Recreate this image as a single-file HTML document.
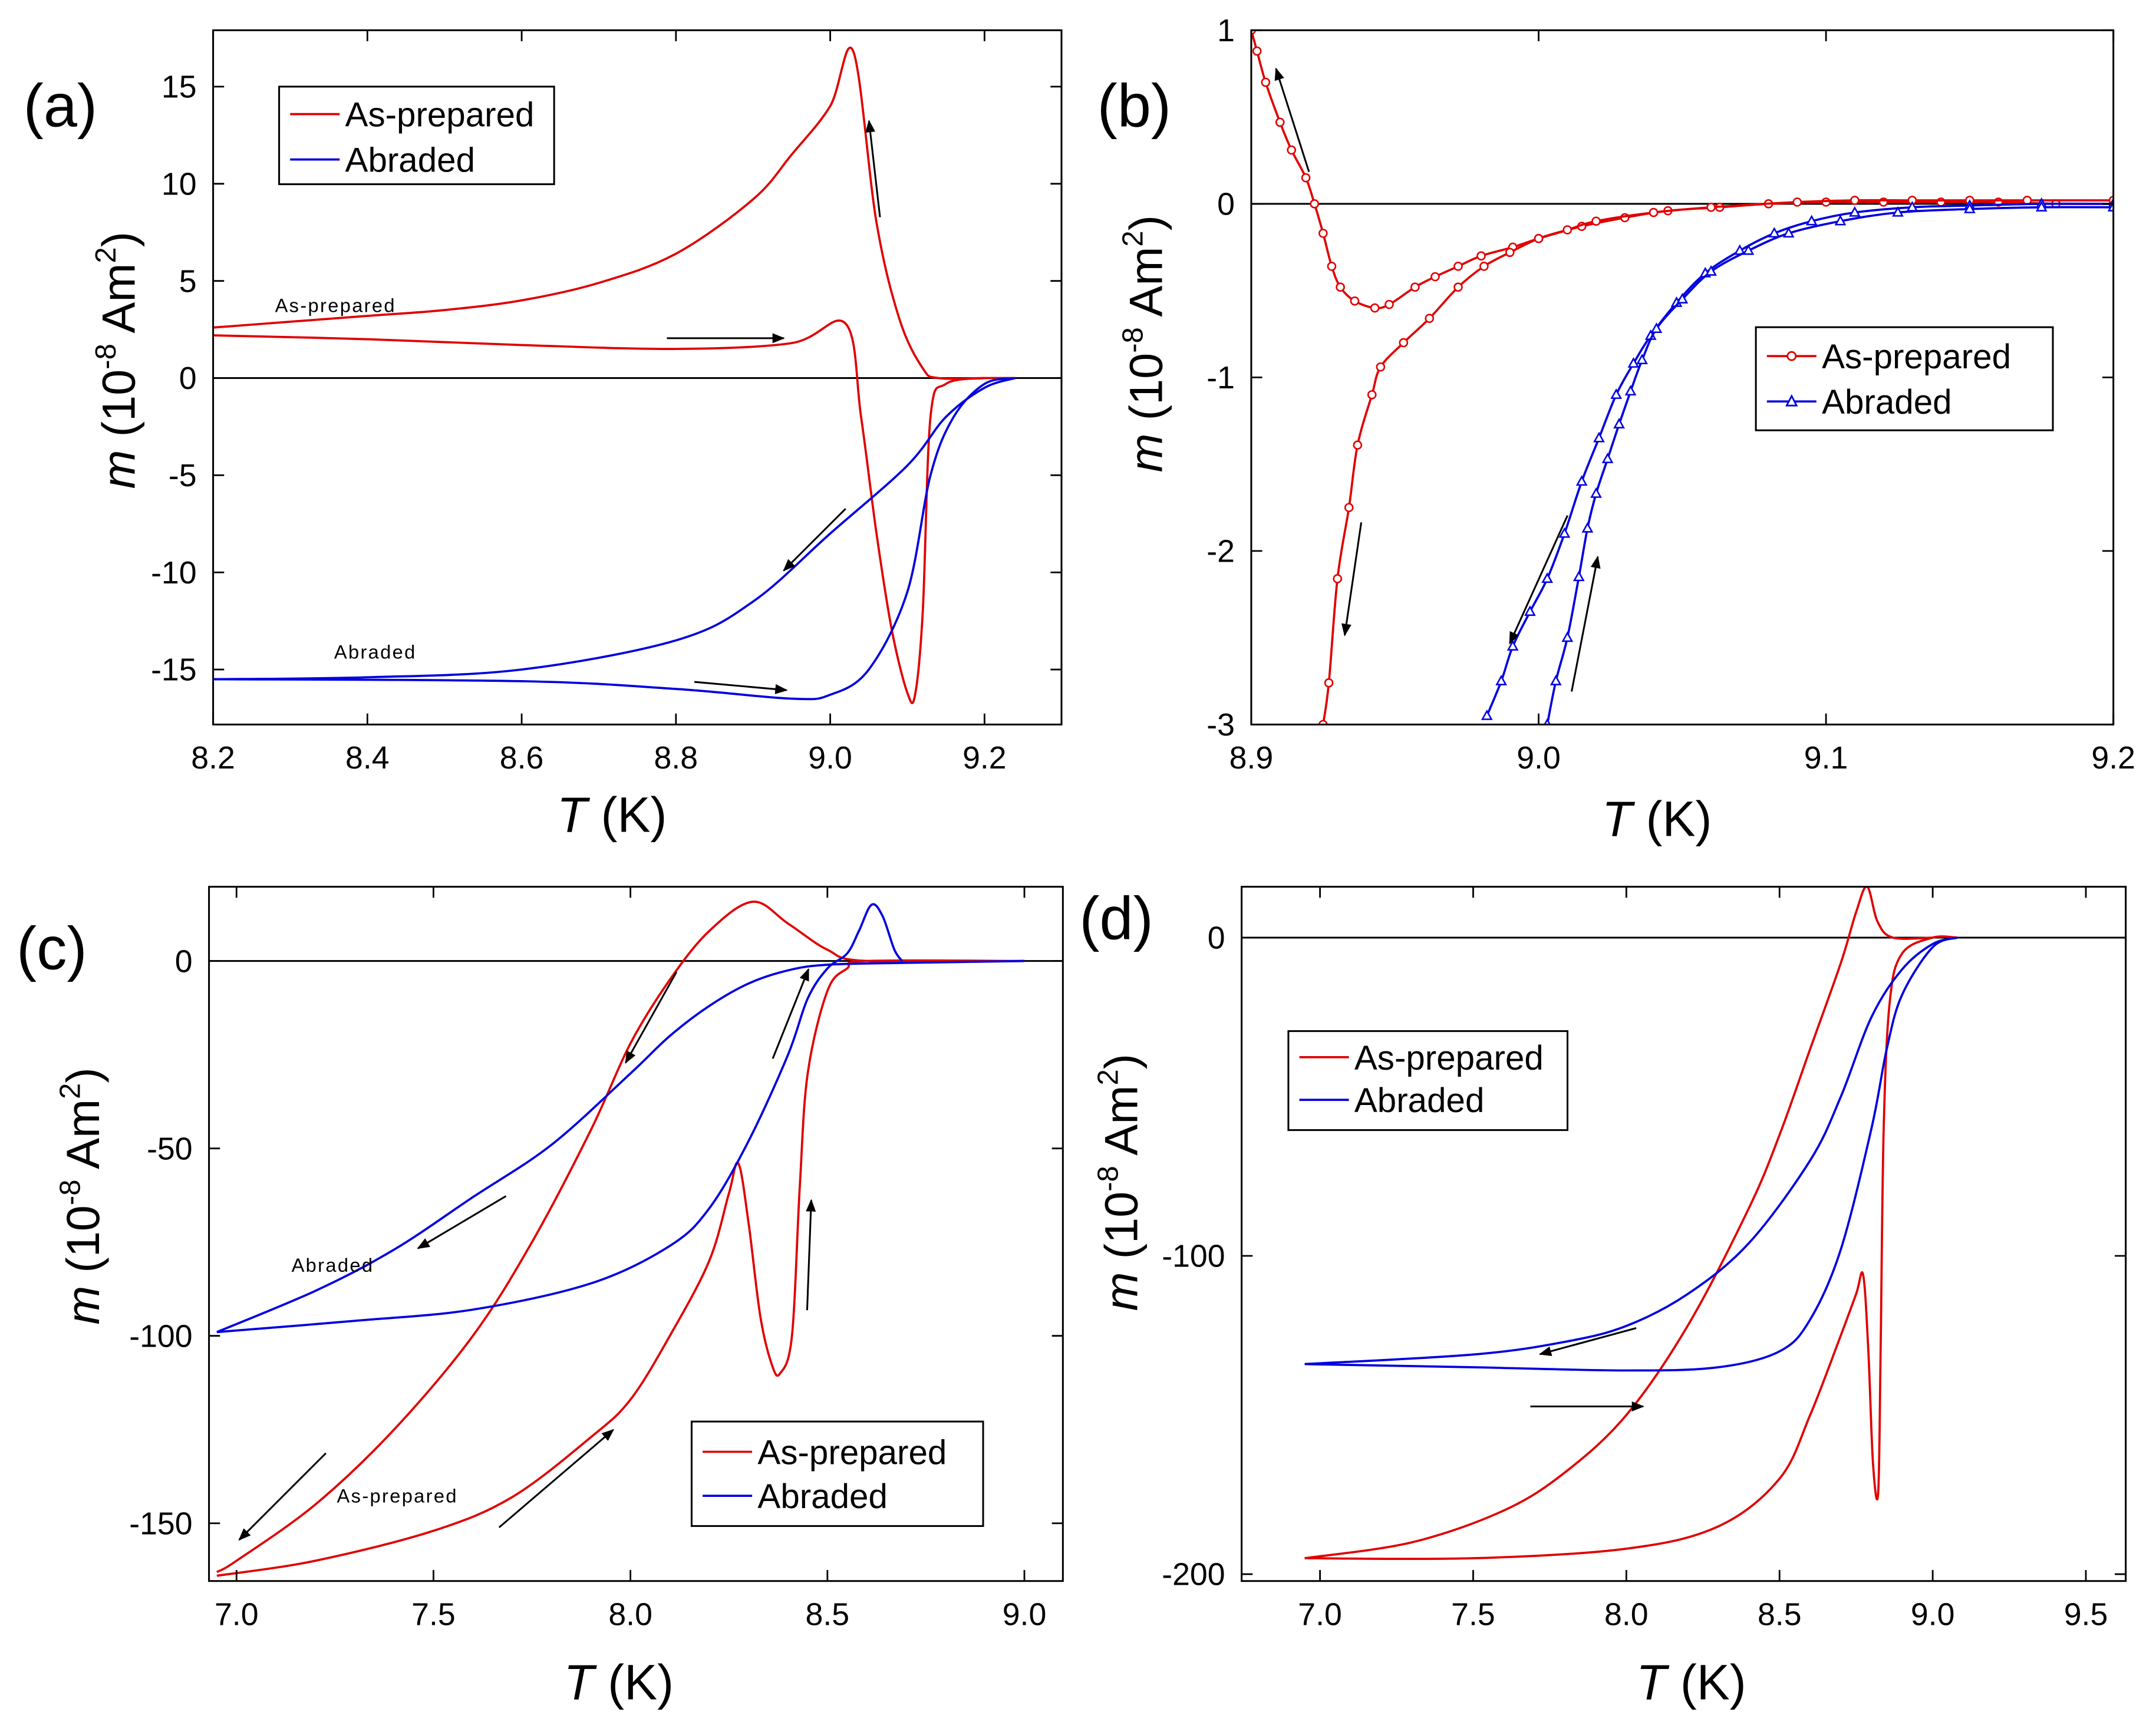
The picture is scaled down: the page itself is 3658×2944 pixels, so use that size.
<!DOCTYPE html>
<html><head><meta charset="utf-8">
<style>
html,body{margin:0;padding:0;background:#fff;}
svg{display:block;font-family:"Liberation Sans",sans-serif;}
</style></head>
<body>
<svg id="fig" width="3658" height="2944" viewBox="0 0 1568 1262" preserveAspectRatio="none" xmlns="http://www.w3.org/2000/svg"></svg>
<script>
// ---- Panel (a) data ----
const aXTicks=[8.2,8.4,8.6,8.8,9.0,9.2];
const aYTicks=[-15,-10,-5,0,5,10,15];
const aPrepCool=[[9.24,0],[9.2,0],[9.14,0],[9.12,0.5],[9.09,3],[9.06,8],[9.03,16.8],[9.0,14],[8.95,11.5],[8.9,9.2],[8.8,6.4],[8.7,4.9],[8.6,4],[8.5,3.5],[8.4,3.2],[8.3,2.9],[8.2,2.6]];
const aPrepWarm=[[8.2,2.2],[8.4,2.0],[8.6,1.7],[8.8,1.5],[8.95,1.8],[9.02,2.8],[9.04,-2],[9.06,-8],[9.08,-13],[9.1,-16.2],[9.11,-16.3],[9.12,-12],[9.13,-2],[9.15,-0.3],[9.2,0]];
const aAbrCool=[[8.2,-15.5],[8.4,-15.4],[8.6,-15],[8.8,-13.5],[8.9,-11.5],[9.0,-8],[9.1,-4.5],[9.15,-2],[9.2,-0.5],[9.24,0]];
const aAbrWarm=[[8.2,-15.5],[8.6,-15.6],[8.8,-16],[8.95,-16.5],[9.0,-16.3],[9.05,-15],[9.1,-11],[9.13,-5],[9.16,-2],[9.2,-0.3],[9.24,0]];
// ---- Panel (b) data ----
const bXTicks=[8.9,9.0,9.1,9.2];
const bYTicks=[-3,-2,-1,0,1];
const bPrepCool=[[8.9,1],[8.902,0.88],[8.905,0.7],[8.91,0.47],[8.914,0.31],[8.919,0.15],[8.922,0],[8.925,-0.17],[8.928,-0.36],[8.931,-0.48],[8.936,-0.56],[8.943,-0.6],[8.948,-0.58],[8.957,-0.48],[8.964,-0.42],[8.972,-0.36],[8.98,-0.3],[8.991,-0.25],[9.0,-0.2],[9.015,-0.13],[9.03,-0.08],[9.045,-0.04],[9.063,-0.02],[9.08,0],[9.1,0.01],[9.12,0.01],[9.14,0.01],[9.16,0.01],[9.18,0],[9.2,0]];
const bPrepWarm=[[8.925,-3],[8.927,-2.76],[8.930,-2.16],[8.934,-1.75],[8.937,-1.39],[8.942,-1.1],[8.945,-0.94],[8.953,-0.8],[8.962,-0.66],[8.972,-0.48],[8.981,-0.36],[8.99,-0.28],[9.0,-0.2],[9.01,-0.15],[9.02,-0.1],[9.04,-0.05],[9.06,-0.02],[9.09,0.01],[9.11,0.02],[9.13,0.02],[9.15,0.02],[9.17,0.02],[9.2,0.02]];
const bAbrCool=[[8.982,-2.95],[8.987,-2.75],[8.991,-2.55],[8.997,-2.35],[9.003,-2.16],[9.009,-1.9],[9.015,-1.6],[9.021,-1.35],[9.027,-1.1],[9.033,-0.92],[9.039,-0.76],[9.048,-0.57],[9.058,-0.4],[9.07,-0.27],[9.082,-0.17],[9.095,-0.1],[9.11,-0.05],[9.13,-0.02],[9.15,-0.01],[9.175,0],[9.2,0]];
const bAbrWarm=[[9.003,-3],[9.006,-2.75],[9.01,-2.5],[9.014,-2.15],[9.017,-1.87],[9.02,-1.67],[9.024,-1.47],[9.028,-1.27],[9.032,-1.08],[9.036,-0.9],[9.041,-0.72],[9.05,-0.55],[9.06,-0.39],[9.073,-0.27],[9.087,-0.17],[9.105,-0.1],[9.125,-0.05],[9.15,-0.03],[9.175,-0.02],[9.2,-0.02]];
// ---- Panel (c) data ----
const cXTicks=[7.0,7.5,8.0,8.5,9.0];
const cYTicks=[-150,-100,-50,0];
const cPrepCool=[[9.0,0],[8.6,0],[8.5,3],[8.4,10],[8.31,15.8],[8.2,8],[8.1,-5],[8.0,-22],[7.9,-45],[7.75,-75],[7.6,-100],[7.4,-125],[7.2,-145],[7.0,-160],[6.95,-163]];
const cPrepWarm=[[6.95,-164],[7.2,-160],[7.5,-152],[7.7,-143],[7.9,-127],[8.0,-117],[8.1,-100],[8.2,-80],[8.25,-62],[8.274,-54],[8.3,-70],[8.33,-95],[8.36,-108],[8.38,-110],[8.41,-100],[8.43,-60],[8.45,-30],[8.5,-8],[8.55,-2],[8.6,0],[9.0,0]];
const cAbrCool=[[6.95,-99],[7.2,-88],[7.4,-77],[7.6,-63],[7.8,-49],[8.0,-30],[8.1,-20],[8.2,-12],[8.3,-6],[8.4,-2.5],[8.5,-1],[8.7,-0.5],[9.0,0]];
const cAbrWarm=[[6.95,-99],[7.3,-96],[7.6,-93],[7.9,-86],[8.1,-76],[8.2,-66],[8.3,-48],[8.4,-25],[8.45,-10],[8.5,-2],[8.55,2],[8.58,8],[8.612,15],[8.64,12],[8.67,3],[8.69,0]];
// ---- Panel (d) data ----
const dXTicks=[7.0,7.5,8.0,8.5,9.0,9.5];
const dYTicks=[-200,-100,0];
const dPrepCool=[[6.95,-195],[7.3,-190],[7.6,-180],[7.8,-168],[8.0,-150],[8.2,-122],[8.4,-85],[8.5,-62],[8.6,-35],[8.7,-8],[8.75,8],[8.786,16],[8.82,5],[8.87,0],[9.0,0]];
const dPrepWarm=[[6.95,-195],[7.5,-195],[8.0,-192],[8.3,-185],[8.5,-170],[8.6,-150],[8.7,-125],[8.75,-112],[8.773,-106],[8.79,-130],[8.805,-165],[8.822,-174.5],[8.83,-130],[8.84,-60],[8.86,-20],[8.9,-5],[9.0,0],[9.08,0]];
const dAbrCool=[[6.95,-134],[7.5,-131],[7.8,-127],[8.0,-122],[8.2,-112],[8.4,-96],[8.6,-70],[8.7,-50],[8.8,-25],[8.9,-10],[9.0,-2],[9.08,0]];
const dAbrWarm=[[6.95,-134],[7.5,-135],[8.0,-136],[8.3,-135],[8.5,-130],[8.6,-120],[8.7,-98],[8.8,-60],[8.85,-35],[8.9,-18],[9.0,-3],[9.08,0]];

const NS="http://www.w3.org/2000/svg";
const svg=document.getElementById('fig');
function mk(tag,attrs,parent){const e=document.createElementNS(NS,tag);for(const k in attrs)e.setAttribute(k,attrs[k]);(parent||svg).appendChild(e);return e;}
function mkText(str,attrs,parent){const t=mk('text',attrs,parent);t.textContent=str;return t;}

const defs=mk('defs',{});
const mkr=mk('marker',{id:'ah',viewBox:'0 0 10 10',refX:'9',refY:'5',markerWidth:'7',markerHeight:'7',orient:'auto'},defs);
mk('path',{d:'M0,1 L10,5 L0,9 Z',fill:'#000'},mkr);

function smoothPath(pts){
  if(pts.length<3) return pts.map((p,i)=>(i?'L':'M')+p[0].toFixed(2)+','+p[1].toFixed(2)).join(' ');
  let d='M'+pts[0][0].toFixed(2)+','+pts[0][1].toFixed(2);
  for(let i=0;i<pts.length-1;i++){
    const p0=pts[i-1]||pts[i],p1=pts[i],p2=pts[i+1],p3=pts[i+2]||p2;
    const c1=[p1[0]+(p2[0]-p0[0])/6,p1[1]+(p2[1]-p0[1])/6];
    const c2=[p2[0]-(p3[0]-p1[0])/6,p2[1]-(p3[1]-p1[1])/6];
    d+=` C${c1[0].toFixed(2)},${c1[1].toFixed(2)} ${c2[0].toFixed(2)},${c2[1].toFixed(2)} ${p2[0].toFixed(2)},${p2[1].toFixed(2)}`;
  }
  return d;
}

function panel(cfg){
  const g=mk('g',{});
  
  
  const sx=v=>cfg.px0+(v-cfg.x0)*(cfg.px1-cfg.px0)/(cfg.x1-cfg.x0);
  const sy=v=>cfg.py0+(v-cfg.y0)*(cfg.py1-cfg.py0)/(cfg.y1-cfg.y0);
  const L=cfg.L,R=cfg.R,T=cfg.T,B=cfg.B;
  const clipId='clip'+cfg.id;
  const cp=mk('clipPath',{id:clipId},defs);
  mk('rect',{x:L,y:T,width:R-L,height:B-T},cp);
  const z=mk('line',{x1:L,x2:R,y1:sy(0),y2:sy(0),stroke:'#000','stroke-width':1.3},g);
  
  
  const plot=mk('g',{'clip-path':'url(#'+clipId+')'},g);
  cfg.series.forEach(s=>{
    const pts=s.data.map(p=>[sx(p[0]),sy(p[1])]);
    const pth=mk('path',{d:smoothPath(pts),fill:'none',stroke:s.color,'stroke-width':1.6},plot);
    
    
    if(s.marker){
      s.data.forEach(p=>{
        const x=sx(p[0]),y=sy(p[1]);
        let m;
        if(s.marker==='circle') m=mk('circle',{cx:x,cy:y,r:2.8,fill:'#fff',stroke:s.color,'stroke-width':1.1},plot);
        else m=mk('path',{d:`M${x},${y-3.5} L${x+3.3},${y+2.5} L${x-3.3},${y+2.5} Z`,fill:'#fff',stroke:s.color,'stroke-width':1.1},plot);
        
        
      });
    }
  });
  const fr=mk('rect',{x:L,y:T,width:R-L,height:B-T,fill:'none',stroke:'#000','stroke-width':1.3},g);
  
  
  cfg.xt.forEach(v=>{
    const x=sx(v);
    mk('line',{x1:x,x2:x,y1:B,y2:B-8,stroke:'#000','stroke-width':1.2},g);
    mk('line',{x1:x,x2:x,y1:T,y2:T+8,stroke:'#000','stroke-width':1.2},g);
    const t=mkText(v.toFixed(1),{x:x,y:B+32,'font-size':23,'text-anchor':'middle'},g);
    
    
  });
  cfg.yt.forEach(v=>{
    const y=sy(v);
    mk('line',{x1:L,x2:L+8,y1:y,y2:y,stroke:'#000','stroke-width':1.2},g);
    mk('line',{x1:R,x2:R-8,y1:y,y2:y,stroke:'#000','stroke-width':1.2},g);
    const t=mkText(String(v),{x:L-12,y:y+8,'font-size':23,'text-anchor':'end'},g);
    
    
  });
  const xt=mk('text',{x:cfg.xl[0],y:cfg.xl[1],'font-size':36,'text-anchor':'middle'},g);
  xt.innerHTML='<tspan font-style="italic">T</tspan> (K)';
  
  
  const yt=mk('text',{x:0,y:0,'font-size':34,'text-anchor':'middle',transform:`translate(${cfg.yl[0]},${cfg.yl[1]}) rotate(-90)`},g);
  yt.innerHTML='<tspan font-style="italic">m</tspan> (10<tspan dy="-14" font-size="21">-8</tspan><tspan dy="14"> Am</tspan><tspan dy="-14" font-size="21">2</tspan><tspan dy="14">)</tspan>';
  
  
  const pl=mkText(cfg.label,{x:cfg.lab[0],y:cfg.lab[1],'font-size':44},g);
  
  
  const lg=mk('g',{},g);
  
  
  const b=cfg.leg;
  mk('rect',{x:b[0],y:b[1],width:b[2]-b[0],height:b[3]-b[1],fill:'#fff',stroke:'#000','stroke-width':1.3},lg);
  [['As-prepared','#e00000',b[4]],['Abraded','#0000e0',b[5]]].forEach((e,i)=>{
    const le=mk('g',{},lg);
    
    
    mk('line',{x1:b[0]+8,x2:b[0]+44,y1:e[2],y2:e[2],stroke:e[1],'stroke-width':1.6},le);
    if(cfg.legMarker){
      const cx=b[0]+26;
      if(i===0) mk('circle',{cx:cx,cy:e[2],r:3,fill:'#fff',stroke:e[1],'stroke-width':1.2},le);
      else mk('path',{d:`M${cx},${e[2]-4} L${cx+3.6},${e[2]+3} L${cx-3.6},${e[2]+3} Z`,fill:'#fff',stroke:e[1],'stroke-width':1.2},le);
    }
    mkText(e[0],{x:b[0]+48,y:e[2]+9,'font-size':25},le);
  });
  (cfg.arrows||[]).forEach(a=>{
    const ar=mk('line',{x1:a[0],y1:a[1],x2:a[2],y2:a[3],stroke:'#000','stroke-width':1.3,'marker-end':'url(#ah)'},g);
    
    
  });
  (cfg.notes||[]).forEach(n=>{
    const t=mkText(n[0],{x:n[1],y:n[2],'font-size':14,'letter-spacing':'1'},g);
    
    
  });
}

const RED='#e00000',BLUE='#0000e0';
panel({id:'a',name:'panel-a',label:'(a)',lab:[17,92],L:155,R:772,T:22,B:527,
  x0:8.2,x1:9.2,px0:155,px1:716,y0:0,y1:15,py0:275,py1:63,xt:aXTicks,yt:aYTicks,
  xl:[445,605],yl:[98,262],leg:[203,63,403,134,83,116],
  series:[{name:'as-prepared-cooling',data:aPrepCool,color:RED},{name:'as-prepared-warming',data:aPrepWarm,color:RED},
    {name:'abraded-cooling',data:aAbrCool,color:BLUE},{name:'abraded-warming',data:aAbrWarm,color:BLUE}],
  arrows:[[640,158,632,88],[485,246,570,246],[615,370,570,415],[505,496,572,502]],
  notes:[['As-prepared',200,227],['Abraded',243,479]]});
panel({id:'b',name:'panel-b',label:'(b)',lab:[798,92],L:910,R:1537,T:22,B:527,
  x0:8.9,x1:9.2,px0:910,px1:1537,y0:-3,y1:1,py0:527,py1:22,xt:bXTicks,yt:bYTicks,
  xl:[1205,608],yl:[845,250],leg:[1277,238,1493,313,259,292],legMarker:true,
  series:[{name:'as-prepared-cooling',data:bPrepCool,color:RED,marker:'circle'},{name:'as-prepared-warming',data:bPrepWarm,color:RED,marker:'circle'},
    {name:'abraded-cooling',data:bAbrCool,color:BLUE,marker:'tri'},{name:'abraded-warming',data:bAbrWarm,color:BLUE,marker:'tri'}],
  arrows:[[952,125,928,50],[990,380,978,462],[1140,375,1098,468],[1143,503,1162,405]]});
panel({id:'c',name:'panel-c',label:'(c)',lab:[12,705],L:152,R:773,T:645,B:1150,
  x0:7,x1:9,px0:172,px1:745,y0:0,y1:-150,py0:699,py1:1108,xt:cXTicks,yt:cYTicks,
  xl:[450,1236],yl:[72,870],leg:[503,1034,715,1110,1056,1088],
  series:[{name:'as-prepared-cooling',data:cPrepCool,color:RED},{name:'as-prepared-warming',data:cPrepWarm,color:RED},
    {name:'abraded-cooling',data:cAbrCool,color:BLUE},{name:'abraded-warming',data:cAbrWarm,color:BLUE}],
  arrows:[[492,707,455,773],[368,870,304,908],[562,770,588,705],[237,1057,174,1120],[363,1111,446,1040],[587,953,590,873]],
  notes:[['Abraded',212,925],['As-prepared',245,1093]]});
panel({id:'d',name:'panel-d',label:'(d)',lab:[785,683],L:903,R:1546,T:645,B:1150,
  x0:7,x1:9.5,px0:960,px1:1517,y0:0,y1:-200,py0:682,py1:1145,xt:dXTicks,yt:dYTicks,
  xl:[1230,1236],yl:[827,860],leg:[937,750,1140,822,769,800],
  series:[{name:'as-prepared-cooling',data:dPrepCool,color:RED},{name:'as-prepared-warming',data:dPrepWarm,color:RED},
    {name:'abraded-cooling',data:dAbrCool,color:BLUE},{name:'abraded-warming',data:dAbrWarm,color:BLUE}],
  arrows:[[1190,966,1120,985],[1113,1023,1195,1023]]});
</script>
</body></html>
